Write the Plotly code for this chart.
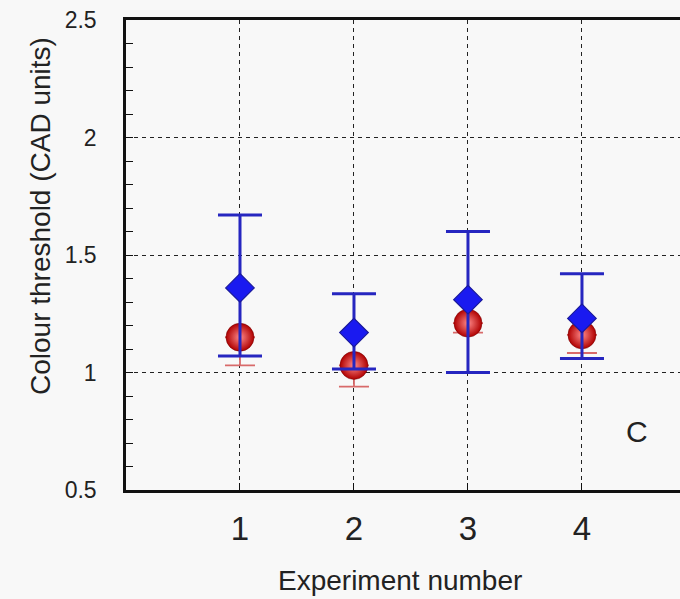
import plotly.graph_objects as go

experiments = [1, 2, 3, 4]

# Blue diamonds: mean with upper / lower errors
blue_mean = [1.36, 1.17, 1.31, 1.23]
blue_err_plus = [0.31, 0.165, 0.29, 0.19]
blue_err_minus = [0.29, 0.155, 0.31, 0.17]

# Red spheres: mean with lower errors (upper hidden)
red_mean = [1.15, 1.03, 1.21, 1.16]
red_err_plus = [0, 0, 0, 0]
red_err_minus = [0.12, 0.09, 0.04, 0.077]

y_ticks = [0.5, 1, 1.5, 2, 2.5]
y_ticktext = ["0.5", "1", "1.5", "2", "2.5"]
x_ticks = [1, 2, 3, 4]
x_ticktext = ["1", "2", "3", "4"]

BG = "#f8f8f8"
FONT = "Arial, Liberation Sans, sans-serif"
TXT = "#222222"

fig = go.Figure()

fig.add_trace(go.Scatter(
    x=experiments, y=red_mean, mode="markers",
    marker=dict(symbol="circle", size=28, color="#b00000",
                gradient=dict(type="radial", color="#ff8a8a"),
                line=dict(width=0.5, color="#700000")),
    error_y=dict(type="data", symmetric=False, array=red_err_plus,
                 arrayminus=red_err_minus, color="#d86a6a",
                 thickness=1.8, width=15),
    showlegend=False,
))

fig.add_trace(go.Scatter(
    x=experiments, y=blue_mean, mode="markers",
    marker=dict(symbol="diamond", size=22, color="#1a1af0",
                line=dict(width=1.2, color="#1a1a9a")),
    error_y=dict(type="data", symmetric=False, array=blue_err_plus,
                 arrayminus=blue_err_minus, color="#2626c0",
                 thickness=3, width=22),
    showlegend=False,
))

fig.add_annotation(x=4.48, y=0.75, text="C", showarrow=False,
                   font=dict(family=FONT, size=30, color=TXT))

# axis titles as paper-anchored annotations for exact placement
fig.add_annotation(xref="paper", yref="paper", x=(400 - 126) / 554, y=-(580 - 490) / 470,
                   text="Experiment number", showarrow=False,
                   xanchor="center", yanchor="middle",
                   font=dict(family=FONT, size=28, color=TXT))
fig.add_annotation(xref="paper", yref="paper", x=-(126 - 40) / 554, y=(490 - 216) / 470,
                   text="Colour threshold (CAD units)", showarrow=False,
                   textangle=-90, xanchor="center", yanchor="middle",
                   font=dict(family=FONT, size=28, color=TXT))

fig.update_layout(
    width=680, height=599,
    margin=dict(l=126, r=0, t=20, b=109, autoexpand=False),
    paper_bgcolor=BG, plot_bgcolor=BG,
    font=dict(family=FONT, color=TXT),
    xaxis=dict(
        range=[0, 4.86], tickvals=x_ticks, ticktext=x_ticktext,
        showline=True, linecolor="#111", linewidth=2.5, mirror=True,
        ticks="inside", ticklen=7, tickwidth=1, tickcolor="#111",
        showgrid=True, gridcolor="#222", gridwidth=1, griddash="4px,4px",
        zeroline=False, automargin=False,
        tickfont=dict(size=33, color=TXT),
        ticklabelstandoff=8,
    ),
    yaxis=dict(
        range=[0.5, 2.5], tickvals=y_ticks, ticktext=y_ticktext,
        showline=True, linecolor="#111", linewidth=2.5,
        ticks="inside", ticklen=7, tickwidth=1, tickcolor="#111",
        minor=dict(dtick=0.1, ticks="inside", ticklen=7, tickwidth=1,
                   tickcolor="#111", showgrid=False),
        showgrid=True, gridcolor="#222", gridwidth=1, griddash="4px,4px",
        zeroline=False, automargin=False,
        tickfont=dict(size=23, color=TXT),
        ticklabelstandoff=22,
    ),
)

fig.write_html(
    "out.html",
    config={"displayModeBar": False},
    post_script="document.body.style.margin='0';document.body.style.overflow='hidden';document.body.style.background='#f8f8f8';",
)
